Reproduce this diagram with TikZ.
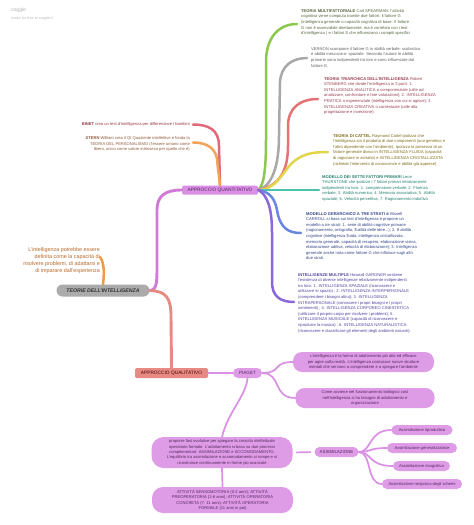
\documentclass[tikz,border=0pt]{standalone}
\usepackage{fontspec}
\setmainfont{Liberation Sans}
\definecolor{cgreen}{HTML}{8CC84B}
\definecolor{cgray}{HTML}{A8A8A8}
\definecolor{cred}{HTML}{E57373}
\definecolor{cyellow}{HTML}{E3D54A}
\definecolor{cteal}{HTML}{4CC3B0}
\definecolor{cblue}{HTML}{6A86E0}
\definecolor{cpurple}{HTML}{8A68D8}
\definecolor{cbinet}{HTML}{E0697A}
\definecolor{cstern}{HTML}{F2A35A}
\definecolor{corange}{HTML}{F09A45}
\definecolor{cmag}{HTML}{D07AD8}
\definecolor{csalmon}{HTML}{E88A84}
\definecolor{cpink}{HTML}{DA90E4}
\definecolor{pinkfill}{HTML}{DE9CE7}
\definecolor{pinktext}{HTML}{55265F}
\definecolor{tgreen}{HTML}{556640}
\definecolor{tgray}{HTML}{606060}
\definecolor{tred}{HTML}{983F50}
\definecolor{tyellow}{HTML}{7D6D18}
\definecolor{tteal}{HTML}{23806F}
\definecolor{tblue}{HTML}{344488}
\definecolor{tpurple}{HTML}{5242A0}
\definecolor{tbinet}{HTML}{983848}
\definecolor{tstern}{HTML}{925838}
\definecolor{torange}{HTML}{B86828}
\begin{document}
\begin{tikzpicture}[x=1pt,y=-1pt,
  txt/.style={inner sep=0pt, font=\fontsize{4.1}{5.6}\selectfont, align=left, anchor=north west},
  rtxt/.style={inner sep=0pt, font=\fontsize{4.1}{5.6}\selectfont, align=right, anchor=north east},
  pill/.style={fill=pinkfill, text=pinktext, inner sep=0pt, align=center, rounded corners=5pt, font=\fontsize{4.1}{5.4}\selectfont},
  bigpill/.style={pill, rounded corners=9pt},
  branch/.style={line width=2.5pt, line cap=round},
  thin/.style={line width=1.7pt, line cap=round, cpink}
]
\useasboundingbox[fill=white] (0,0) rectangle (474,525);

% watermark
\node[inner sep=0pt, anchor=west, text=gray!60, font=\fontsize{5}{6}\selectfont] (wm1) at (11,10) {coggle};
\node[inner sep=0pt, anchor=west, text=gray!50, font=\fontsize{3.8}{5}\selectfont] (wm2) at (11,19) {made for free at coggle.it};

% central node
\node[fill=black!33, rounded corners=6pt, minimum width=93pt, minimum height=12pt, inner sep=0pt,
      text=black!80, font=\fontsize{5.2}{6}\selectfont\bfseries\itshape] (root) at (103,290.5) {TEORIE DELL'INTELLIGENZA};

% left definition
\node[inner sep=0pt, anchor=north east, align=right, text=torange, font=\fontsize{5.4}{7}\selectfont] (deftext) at (100,247)
  {L'intelligenza potrebbe essere\\definita come la capacità di\\risolvere problemi, di adattarsi e\\di imparare dall'esperienza};
\coordinate (deftip) at (100,257);

% approaches
\node[fill=cpink, text=pinktext, rounded corners=1.5pt, minimum width=76pt, minimum height=9pt, inner sep=0pt,
      font=\fontsize{4.8}{5.5}\selectfont] (quant) at (220,190) {APPROCCIO QUANTITATIVO};
\node[fill=csalmon, text=black!70!red, rounded corners=1.5pt, minimum width=73pt, minimum height=10pt, inner sep=0pt,
      font=\fontsize{4.8}{5.5}\selectfont] (qual) at (171.5,373) {APPROCCIO QUALITATIVO};

% BINET / STERN
\node[rtxt, text=tbinet] (binet) at (190,122) {\textbf{BINET} crea un test d'intelligenza per differenziare i bambini};
\node[rtxt, text=tstern] (stern) at (190,136.5) {\textbf{STERN} William crea il QI Quoziente intellettivo e fonda la\\TEORIA DEL PERSONALISMO (l'essere umano come\\libero, unico come valore intrinseco per quello che è)};
\coordinate (binettip) at (193,124.5);
\coordinate (sterntip) at (193,142.5);

% right text blocks
\node[txt, text=tgreen] (multi) at (301,9) {\textbf{TEORIA MULTIFATTORIALE} Carl SPEARMAN: l'attività\\cognitiva viene compiuta tramite due fattori: il fattore G\\(intelligenza generale o capacità cognitiva di base. Il fattore\\G non è osservabile direttamente, ma è correlato con i test\\d'intelligenza ) e i fattori S che influenzano i compiti specifici};
\node[txt, text=tgray] (vernon) at (311,47) {VERNON scompone il fattore G in abilità verbale- scolastica\\e abilità meccanico- spaziale. Secondo l'autore le abilità\\primarie sono indipendenti tra loro e sono influenzate dal\\fattore G.};
\node[txt, text=tred] (tri) at (324,77) {\textbf{TEORIA TRIARCHICA DELL'INTELLIGENZA} Robert\\STENBERG che divide l'intelligenza in 3 parti: 1.\\INTELLIGENZA ANALITICA o componenziale (utile ad\\analizzare, confrontare e fare valutazioni); 2. INTELLIGENZA\\PRATICA o esperienziale (intelligenza con cui si agisce); 3.\\INTELLIGENZA CREATIVA o contestuale (utile alla\\progettazione e inverzione)};
\node[txt, text=tyellow] (cattel) at (333,134) {\textbf{TEORIA DI CATTEL} Raymond Cattel ipotizza che\\l'intelligenza sia il prodotto di due componenti (uno genetico e\\l'altro dipendente con l'ambiente). Ipotizza la presenza di un\\fattore generale diviso in INTELLIGENZA FLUIDA (capacità\\di ragionare in astratto) e INTELLIGENZA CRISTALLIZZATA\\(richiede l'intervento di conoscenze e abilità già apprese)};
\node[txt, text=tteal] (sette) at (322,175) {\textbf{MODELLO DEI SETTE FATTORI PRIMARI} Leon\\THURSTONE che ipotizzò i 7 fattori primari relativamente\\indipendenti tra loro: 1. comprensione verbale; 2. Fluenza\\verbale; 3. Abilità numerica; 4. Memoria associativa; 5. Abilità\\spaziale; 6. Velocità percettiva; 7. Ragionamento induttivo};
\node[txt, text=tblue] (gerarch) at (306,212) {\textbf{MODELLO GERARCHICO A TRE STRATI} di Bissell\\CARROLL si basa sui test d'intelligenza e propone un\\modello a tre strati: 1. serie di abilità cognitive primarie\\(ragionamento, ortografia, fluidità delle idee...); 2. 8 abilità\\cognitive (intelligenza fluida, intelligenza cristallizzata,\\memoria generale, capacità di recupero, elaborazione visiva,\\elaborazione uditiva, velocità di elaborazione); 3. intelligenza\\generale anche nota come fattore G che influisce sugli altri\\due strati.};
\node[txt, text=tpurple] (multiple) at (298,273) {\textbf{INTELLIGENZE MULTIPLE} Howard GARDNER sostiene\\l'esistenza di diverse intelligenze relativamente indipendenti\\tra loro: 1. INTELLIGENZA SPAZIALE (riconoscere e\\utilizzare lo spazio) ; 2. INTELLIGENZA INTERPERSONALE\\(comprendere i bisogni altrui); 3. INTELLIGENZA\\INTRAPERSONALE (conoscere i propri bisogni e i propri\\sentimenti) ; 4. INTELLIGENZA CORPOREO CINESTETICA\\(utilizzare il proprio corpo per risolvere i problemi); 5.\\INTELLIGENZA MUSICALE (capacità di riconoscere e\\riprodurre la musica) ; 6. INTELLIGENZA NATURALISTICA\\(riconoscere e classificare gli elementi degli ambienti naturali)};
\coordinate (multitip) at (297,24);
\coordinate (vernontip) at (307,58);
\coordinate (tritip) at (318,99);
\coordinate (catteltip) at (328,152);
\coordinate (settetip) at (319,190);
\coordinate (gerarchtip) at (301,233);
\coordinate (multipletip) at (294,302);

% Piaget part
\node[pill, minimum width=29pt, minimum height=10pt, font=\fontsize{4.6}{5.4}\selectfont] (piaget) at (247.5,373) {PIAGET};
\node[bigpill, minimum width=141pt, minimum height=20pt] (p1) at (363.5,362) {L'intelligenza è la forma di adattamento più alta ed efficace\\per agire sulla realtà. L'intelligenza costruisce nuove strutture\\mentali che servono a comprendere e a spiegare l'ambiente};
\node[bigpill, minimum width=139pt, minimum height=20pt] (p2) at (365,398) {Come avviene nel funzionamento biologico così\\nell'intelligenza si ha bisogno di adattamento e\\organizzazione};
\node[bigpill, rounded corners=12pt, minimum width=141pt, minimum height=31pt] (big) at (222,452.5) {proporre fasi evolutive per spiegare la crescita intellettuale\\operatorio formale. L'adattamento si basa su due processi\\complementari: ASSIMILAZIONE e ACCOMODAMENTO.\\L'equilibrio tra assimilazione e accomodamento si rompe e si\\ricostruisce continuamente in forme più avanzate};
\node[bigpill, rounded corners=11pt, minimum width=141pt, minimum height=26pt] (attiv) at (222.5,500) {ATTIVITÀ SENSOMOTORIA (0-2 anni); ATTIVITÀ\\PREOPERATORIA (2-6 anni); ATTIVITÀ OPERATORIA\\CONCRETA (7- 11 anni); ATTIVITÀ OPERATORIA\\FORMALE (11 anni in poi)};
\node[pill, minimum width=44pt, minimum height=10pt, font=\fontsize{4.4}{5.4}\selectfont] (assim) at (336.5,452) {ASSIMILAZIONE};
\node[pill, minimum width=61pt, minimum height=10pt] (a1) at (422,430) {Assimilazione riproduttiva};
\node[pill, minimum width=70pt, minimum height=10pt] (a2) at (422,448) {Assimilazione generalizzatrice};
\node[pill, minimum width=57pt, minimum height=10pt] (a3) at (421.5,466) {Assimilazione ricognitiva};
\node[pill, minimum width=80pt, minimum height=10pt] (a4) at (422,484) {Assimilazione reciproca degli schemi};

% ---------- connectors ----------
\draw[branch, line width=2.9pt, cmag] (root.east) .. controls (157,290) and (157,282) .. (157,266) -- (157,210) .. controls (157,196) and (165,190) .. (quant.west);
\draw[branch, line width=2.9pt, csalmon] (root.east) .. controls (166,291) and (171,298) .. (171,316) -- (qual.north);
\draw[branch, corange] (root.north) .. controls (104,276) and (105,264) .. (deftip);

\draw[branch, cbinet] (quant.north) -- (219,146) .. controls (219,130) and (209,124.5) .. (binettip);
\draw[branch, cstern] (quant.north) -- (217.5,164) .. controls (217.5,150) and (209,142.5) .. (sterntip);

\draw[branch, cgreen] (quant.east) .. controls (264,186) and (266,168) .. (266,140) -- (266,62) .. controls (266,36) and (280,24) .. (multitip);
\draw[branch, cgray] (quant.east) .. controls (272,186) and (279,166) .. (279,136) -- (280,82) .. controls (281,66) and (292,58) .. (vernontip);
\draw[branch, cred] (quant.east) .. controls (280,186) and (288,170) .. (288,146) -- (288,126) .. controls (288,108) and (300,99) .. (tritip);
\draw[branch, cyellow] (quant.east) .. controls (276,189) and (281,175) .. (291,164) .. controls (301,154) and (312,152) .. (catteltip);
\draw[branch, cteal] (quant.east) .. controls (280,190) and (300,190) .. (settetip);
\draw[branch, cblue] (quant.east) .. controls (271,192) and (275,200) .. (277,210) .. controls (280,228) and (288,233) .. (gerarchtip);
\draw[branch, cpurple] (quant.east) .. controls (268,195) and (272,210) .. (272,232) -- (272,282) .. controls (272,296) and (280,302) .. (multipletip);

\draw[thin] (qual.east) -- (piaget.west);
\draw[thin] (piaget.east) .. controls (282,373) and (272,362) .. (p1.west);
\draw[thin] (piaget.east) .. controls (282,373) and (272,398) .. (p2.west);
\draw[thin] (piaget.south) .. controls (246,396) and (228,412) .. (big.north);
\draw[thin] (big.south) -- (attiv.north);
\draw[thin, shorten <=4pt, shorten >=4pt] (big.east) -- (assim.west);
\draw[thin] (assim.east) .. controls (372,452) and (368,430) .. (a1.west);
\draw[thin] (assim.east) .. controls (372,452) and (368,448) .. (a2.west);
\draw[thin] (assim.east) .. controls (372,452) and (368,466) .. (a3.west);
\draw[thin] (assim.east) .. controls (372,452) and (366,484) .. (a4.west);
\end{tikzpicture}
\end{document}
